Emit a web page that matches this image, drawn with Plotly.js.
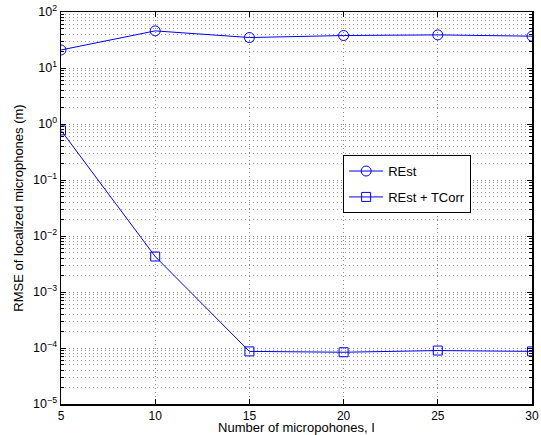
<!DOCTYPE html>
<html>
<head>
<meta charset="utf-8">
<script src="https://cdn.plot.ly/plotly-3.0.1.min.js"></script>
<style>html,body{margin:0;padding:0;background:#fff;}#chart{width:541px;height:435px;}</style>
</head>
<body>
<div id="chart"></div>
<script>
var mics = [5, 10, 15, 20, 25, 30];
var rest = [21, 46, 35, 38, 39, 37];
var restTcorr = [0.77, 0.0043, 8.7e-5, 8.4e-5, 9.0e-5, 8.7e-5];
var seriesNames = ['REst', 'REst + TCorr'];
var xTicks = [5, 10, 15, 20, 25, 30];
var yTickExp = [-5, -4, -3, -2, -1, 0, 1, 2];

var yTickVals = yTickExp.map(function (e) { return Math.pow(10, e); });
var yTickText = yTickExp.map(function (e) {
  return '10<sup>' + (e < 0 ? '\u2212' + (-e) : e) + '</sup>';
});
var minorVals = [];
for (var e = -5; e < 2; e++) {
  for (var k = 2; k <= 9; k++) minorVals.push(k * Math.pow(10, e));
}

var blue = 'rgb(0,0,255)';
var traces = [
  {
    x: mics, y: rest, name: seriesNames[0], type: 'scatter', mode: 'lines+markers',
    legendgroup: 'a',
    line: {color: blue, width: 1},
    marker: {symbol: 'circle-open', size: 10, color: blue, line: {width: 1, color: blue}}
  },
  {
    x: mics, y: restTcorr, name: seriesNames[1], type: 'scatter', mode: 'lines+markers',
    legendgroup: 'b',
    line: {color: blue, width: 1},
    marker: {symbol: 'square-open', size: 9, color: blue, line: {width: 1, color: blue}}
  }
];

var fam = 'Liberation Sans, Arial, sans-serif';
var gridDash = '1px,3px';
var layout = {
  width: 541, height: 435,
  margin: {l: 61, r: 9, t: 12, b: 31},
  paper_bgcolor: '#fff', plot_bgcolor: '#fff',
  font: {family: fam, size: 12, color: '#000'},
  showlegend: true,
  legend: {
    x: 0.599, y: 0.635, xanchor: 'left', yanchor: 'top',
    bgcolor: '#fff', bordercolor: '#000', borderwidth: 1,
    font: {family: fam, size: 13, color: '#000'},
    traceorder: 'grouped', tracegroupgap: 6,
    itemwidth: 34
  },
  xaxis: {
    range: [5, 30], tickmode: 'array', tickvals: xTicks, ticktext: xTicks.map(String),
    ticks: 'inside', ticklen: 5, tickcolor: '#000', mirror: 'allticks',
    showline: true, linecolor: '#000', linewidth: 1.5,
    showgrid: true, gridcolor: '#888', griddash: gridDash, gridwidth: 1,
    zeroline: false,
    tickfont: {family: fam, size: 12, color: '#000'},
    title: {text: 'Number of micropohones, I', font: {family: fam, size: 13, color: '#000'}, standoff: 0}
  },
  yaxis: {
    type: 'log', range: [-5, 2], tickmode: 'array', tickvals: yTickVals, ticktext: yTickText,
    ticks: 'inside', ticklen: 5, tickcolor: '#000', mirror: 'allticks',
    showline: true, linecolor: '#000', linewidth: 1.5,
    showgrid: true, gridcolor: '#888', griddash: gridDash, gridwidth: 1,
    zeroline: false,
    tickfont: {family: fam, size: 12.5, color: '#000'},
    minor: {
      tickmode: 'array', tickvals: minorVals, ticks: 'inside', ticklen: 3, tickcolor: '#000',
      showgrid: true, gridcolor: '#999', griddash: gridDash, gridwidth: 1
    },
    title: {text: 'RMSE of localized microphones (m)', font: {family: fam, size: 13, color: '#000'}, standoff: 6}
  }
};

Plotly.newPlot('chart', traces, layout, {displayModeBar: false, staticPlot: true});
</script>
</body>
</html>
